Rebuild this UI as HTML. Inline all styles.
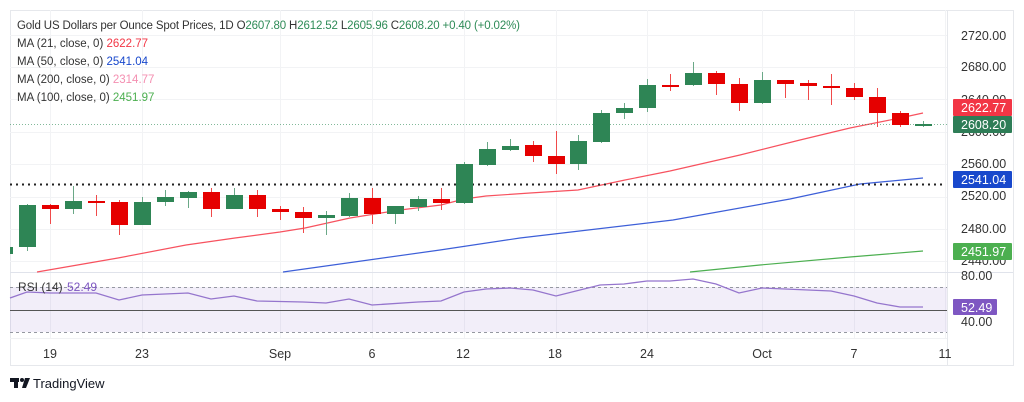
<!DOCTYPE html>
<html><head><meta charset="utf-8"><style>
html,body{margin:0;padding:0;background:#fff;width:1024px;height:402px;overflow:hidden}
svg{display:block;font-family:"Liberation Sans","DejaVu Sans",sans-serif}
.pre{white-space:pre}
</style></head><body>
<svg id="s" width="1024" height="402" viewBox="0 0 1024 402" xmlns="http://www.w3.org/2000/svg">
<rect x="10.5" y="10.5" width="1003" height="355" fill="#fff" stroke="#e6e8ec"/>
<g stroke="#f2f3f5" stroke-width="1">
<line x1="10" y1="35.5" x2="947" y2="35.5"/><line x1="10" y1="67.5" x2="947" y2="67.5"/>
<line x1="10" y1="99.5" x2="947" y2="99.5"/><line x1="10" y1="132.5" x2="947" y2="132.5"/>
<line x1="10" y1="164.5" x2="947" y2="164.5"/><line x1="10" y1="197.5" x2="947" y2="197.5"/>
<line x1="10" y1="229.5" x2="947" y2="229.5"/><line x1="10" y1="261.5" x2="947" y2="261.5"/>
<line x1="50.5" y1="10" x2="50.5" y2="338"/><line x1="142.5" y1="10" x2="142.5" y2="338"/>
<line x1="280.5" y1="10" x2="280.5" y2="338"/><line x1="372.5" y1="10" x2="372.5" y2="338"/>
<line x1="464.5" y1="10" x2="464.5" y2="338"/><line x1="556.5" y1="10" x2="556.5" y2="338"/>
<line x1="647.5" y1="10" x2="647.5" y2="338"/><line x1="762.5" y1="10" x2="762.5" y2="338"/>
<line x1="854.5" y1="10" x2="854.5" y2="338"/><line x1="945.5" y1="10" x2="945.5" y2="338"/>
</g>
<line x1="947.5" y1="10" x2="947.5" y2="366" stroke="#e6e8ec"/>
<line x1="10" y1="272.5" x2="1013" y2="272.5" stroke="#e0e3eb"/>
<line x1="10" y1="338.5" x2="947" y2="338.5" stroke="#f0f1f3"/>
<rect x="10" y="287" width="937" height="45" fill="#7e57c2" fill-opacity="0.1"/>
<line x1="10" y1="287.5" x2="947" y2="287.5" stroke="#9598a1" stroke-dasharray="3,3"/>
<line x1="10" y1="332.5" x2="947" y2="332.5" stroke="#9598a1" stroke-dasharray="3,3"/>
<line x1="10" y1="310.5" x2="947" y2="310.5" stroke="#555" stroke-width="1"/>
<polyline fill="none" stroke="#9575cd" stroke-width="1.3" points="10,298 27,292 50,293 96,293 119,300 142,295 188,293 211,299 234,296 257,301 303,302 326,303 349,299 372,305 418,302 441,301 464,292 486,289 510,288 533,290 556,296 600,285 624,284 647,281 670,281 693,279 716,284 739,293 762,288 808,290 831,291 854,296 877,303 900,307 923,307"/>
<text x="18" y="291" font-size="12" fill="#333">RSI (14)</text><text x="67" y="291" font-size="12" fill="#7e57c2">52.49</text>
<polyline fill="none" stroke="#4caf50" stroke-width="1.2" points="690,272 760,265 850,257 923,251"/>
<polyline fill="none" stroke="#3d5fd8" stroke-width="1.2" points="283,272 440,250 520,238 673,220 790,199 860,184 923,178"/>
<polyline fill="none" stroke="#f7525f" stroke-width="1.2" points="37,272 118,258 186,245 235,238 280,232 305,228 350,218 400,210 441,205 464,199 486,196 530,193 578,190 625,180 670,171 740,155 800,140 850,128 900,118 923,113"/>
<line x1="10" y1="184.5" x2="942" y2="184.5" stroke="#222" stroke-width="2" stroke-dasharray="2,4"/>
<line x1="10" y1="124.5" x2="947" y2="124.5" stroke="#2e8b57" stroke-opacity="0.6" stroke-dasharray="1,2"/>
<g id="c"></g>
<g font-size="11.5" fill="#333" class="pre">
<text x="17" y="29" textLength="503" lengthAdjust="spacing">Gold US Dollars per Ounce Spot Prices, 1D  O<tspan fill="#2e8b57">2607.80</tspan>  H<tspan fill="#2e8b57">2612.52</tspan>  L<tspan fill="#2e8b57">2605.96</tspan>  C<tspan fill="#2e8b57">2608.20</tspan>  <tspan fill="#2e8b57">+0.40 (+0.02%)</tspan></text>
<text x="17" y="47">MA (21, close, 0)  <tspan fill="#f23645">2622.77</tspan></text>
<text x="17" y="65">MA (50, close, 0)  <tspan fill="#1848cc">2541.04</tspan></text>
<text x="17" y="83">MA (200, close, 0)  <tspan fill="#f48fb1">2314.77</tspan></text>
<text x="17" y="101">MA (100, close, 0)  <tspan fill="#4caf50">2451.97</tspan></text>
</g>
<g font-size="12.5" fill="#333">
<text x="961" y="40">2720.00</text><text x="961" y="71">2680.00</text><text x="961" y="104">2640.00</text>
<text x="961" y="136">2600.00</text><text x="961" y="168">2560.00</text><text x="961" y="200">2520.00</text>
<text x="961" y="233">2480.00</text><text x="961" y="265">2440.00</text>
<text x="961" y="280">80.00</text><text x="961" y="326">40.00</text>
</g>
<rect x="953" y="99" width="59" height="17" fill="#f23645" rx="1"/><text x="961" y="112" font-size="12.5" fill="#fff">2622.77</text>
<rect x="953" y="116" width="59" height="17" fill="#2e7d57" rx="1"/><text x="961" y="129" font-size="12.5" fill="#fff">2608.20</text>
<rect x="953" y="171" width="59" height="17" fill="#1848cc" rx="1"/><text x="961" y="184" font-size="12.5" fill="#fff">2541.04</text>
<rect x="953" y="243" width="59" height="17" fill="#4caf50" rx="1"/><text x="961" y="256" font-size="12.5" fill="#fff">2451.97</text>
<rect x="953" y="299" width="44" height="16" fill="#7e57c2" rx="1"/><text x="961" y="312" font-size="12.5" fill="#fff">52.49</text>
<g font-size="12.5" fill="#333" text-anchor="middle">
<text x="50" y="358">19</text><text x="142" y="358">23</text><text x="280" y="358">Sep</text>
<text x="372" y="358">6</text><text x="463" y="358">12</text><text x="555" y="358">18</text>
<text x="647" y="358">24</text><text x="762" y="358">Oct</text><text x="854" y="358">7</text><text x="945" y="358">11</text>
</g>
<g fill="#131722"><rect x="10" y="378" width="9" height="4"/><rect x="14" y="378" width="4" height="10"/><circle cx="22" cy="380" r="2"/><path d="M25 378h5l-4 10h-4z"/></g>
<text x="33" y="388" font-size="13" fill="#131722">TradingView</text>
</svg>
<script>
var d=[[4,'g',247,254,246,255],[27,'g',205,247,204,251],[50,'r',205,209,204,224],[73,'g',201,209,186,214],[96,'r',201,203,195,216],[119,'r',202,225,200,235],[142,'g',202,225,197,225],[165,'g',197,202,190,206],[188,'g',192,198,191,208],[211,'r',192,209,188,217],[234,'g',195,209,188,209],[257,'r',195,209,190,217],[280,'r',209,212,206,220],[303,'r',212,218,207,233],[326,'g',215,218,211,235],[349,'g',198,216,193,217],[372,'r',198,214,188,224],[395,'g',206,214,206,224],[418,'g',199,207,196,211],[441,'r',199,203,188,210],[464,'g',164,203,162,204],[487,'g',149,165,142,166],[510,'g',146,150,139,151],[533,'r',145,156,141,162],[556,'r',156,164,131,174],[578,'g',141,164,135,170],[601,'g',113,142,110,143],[624,'g',108,113,103,119],[647,'g',85,108,79,112],[670,'r',85,86,74,91],[693,'g',73,85,62,86],[716,'r',73,84,71,95],[739,'r',84,103,78,111],[762,'g',80,103,72,104],[785,'r',80,84,80,98],[808,'r',83,86,80,100],[831,'r',86,88,74,105],[854,'r',88,97,83,100],[877,'r',97,113,88,127],[900,'r',113,125,111,127],[923,'g',124,125,121,127]];
var s='';d.forEach(function(c){var col=c[1]=='g'?'#2e8555':'#e50000',wc=c[1]=='g'?'#6aa887':'#f04a4a';
if(c[0]>=10)s+='<line x1="'+(c[0]+.5)+'" y1="'+c[4]+'" x2="'+(c[0]+.5)+'" y2="'+c[5]+'" stroke="'+wc+'"/>';
var x=c[0]-8,w=17;if(c[0]<10){x=10;w=3;}
s+='<rect x="'+x+'" y="'+c[2]+'" width="'+w+'" height="'+Math.max(2,c[3]-c[2])+'" fill="'+col+'"/>';});
document.getElementById('c').innerHTML=s;
</script>
</body></html>
